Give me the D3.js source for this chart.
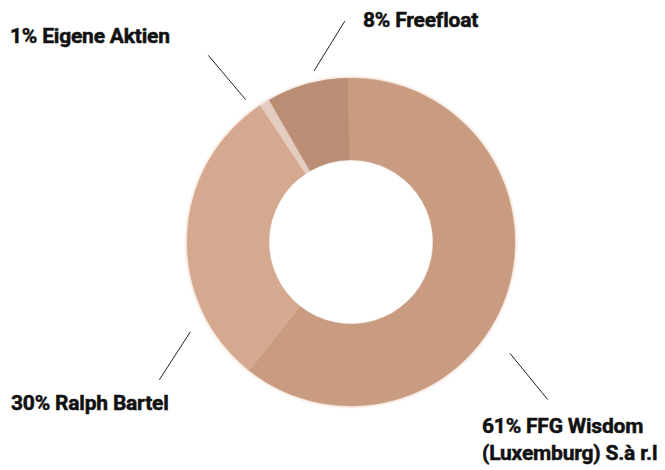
<!DOCTYPE html>
<html>
<head>
<meta charset="utf-8">
<script src="https://cdn.jsdelivr.net/npm/d3@7"></script>
<style>
  html, body { margin: 0; padding: 0; background: #fff; }
  svg { display: block; }
  .label {
    font-family: Roboto, "Noto Sans", sans-serif; font-weight: 700; font-size: 21px;
    fill: #111; stroke: #111; stroke-width: 0.5px; letter-spacing: -0.2px;
  }
</style>
</head>
<body>
<svg id="chart" width="665" height="470"></svg>
<script>
// shareholder structure
const holders = ["FFG Wisdom (Luxemburg) S.à r.l", "Ralph Bartel", "Eigene Aktien", "Freefloat"];
const shares = [61, 30, 1, 8];
const sliceColors = ["#c99c82", "#d5a98f", "#e4ccc0", "#ba8d75"];

// label text lines per slice
const labelLines = [
  ["61% FFG Wisdom", "(Luxemburg) S.à r.l"],
  ["30% Ralph Bartel"],
  ["1% Eigene Aktien"],
  ["8% Freefloat"]
];

const width = 665, height = 470;
const cx = 351, cy = 242;
const outerR = 164, innerR = 82;

// leader lines: polar (deg, radius) start -> end, label anchor
const layout = [
  { a0: 125, r0: 194, a1: 128.7, r1: 252, tx: 482, ty: 433 },
  { a0: 240.8, r0: 184, a1: 234.3, r1: 236, tx: 11, ty: 410 },
  { a0: 323.5, r0: 177, a1: 322.6, r1: 235, tx: 10, ty: 43 },
  { a0: 347.8, r0: 175, a1: 358.4, r1: 221, tx: 363, ty: 27 }
];

const svg = d3.select("#chart");
const g = svg.append("g").attr("transform", `translate(${cx},${cy})`);

const pie = d3.pie()
  .value(d => d)
  .sort(null)
  .startAngle(-0.02)
  .endAngle(2 * Math.PI - 0.02);

const arc = d3.arc().innerRadius(innerR).outerRadius(outerR);

// soft halo round the ring
g.append("circle")
  .attr("r", outerR + 1)
  .style("fill", "none")
  .style("stroke", "#fbf1ea")
  .style("stroke-width", 3);

g.selectAll("path.slice")
  .data(pie(shares))
  .enter().append("path")
  .attr("class", "slice")
  .attr("d", arc)
  .style("fill", (d, i) => sliceColors[i])
  .style("stroke", (d, i) => sliceColors[i])
  .style("stroke-width", 0.5);

const rad = deg => deg * Math.PI / 180;

g.selectAll("line.leader")
  .data(layout)
  .enter().append("line")
  .attr("class", "leader")
  .attr("x1", d => d3.pointRadial(rad(d.a0), d.r0)[0])
  .attr("y1", d => d3.pointRadial(rad(d.a0), d.r0)[1])
  .attr("x2", d => d3.pointRadial(rad(d.a1), d.r1)[0])
  .attr("y2", d => d3.pointRadial(rad(d.a1), d.r1)[1])
  .style("stroke", "#222")
  .style("stroke-width", 1);

layout.forEach((d, i) => {
  const t = svg.append("text")
    .attr("class", "label")
    .attr("x", d.tx)
    .attr("y", d.ty);
  labelLines[i].forEach((line, j) => {
    t.append("tspan")
      .attr("x", d.tx)
      .attr("dy", j === 0 ? 0 : 27)
      .text(line);
  });
});
</script>
</body>
</html>
